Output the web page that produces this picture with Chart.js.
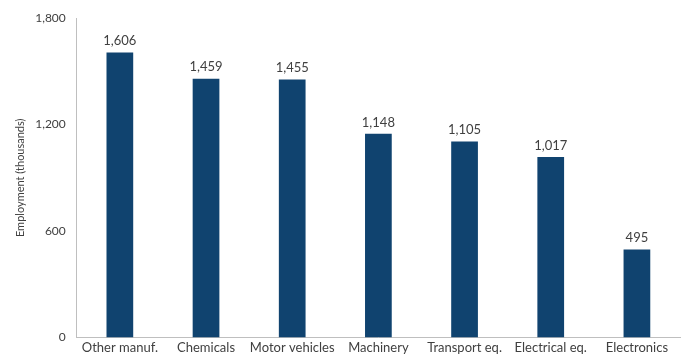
<!DOCTYPE html>
<html>
<head>
<meta charset="utf-8">
<script src="https://cdn.jsdelivr.net/npm/chart.js@4"></script>
<style>
    html, body { margin: 0; padding: 0; background: #fff; }
    #wrap { width: 689px; height: 359px; }
</style>
</head>
<body>
<div id="wrap"><canvas id="empChart"></canvas></div>
<script>
// Dados
const categories = ['Other manuf.', 'Chemicals', 'Motor vehicles', 'Machinery', 'Transport eq.', 'Electrical eq.', 'Electronics'];
const employment = [1606, 1459, 1455, 1148, 1105, 1017, 495];
const yTicks = [0, 600, 1200, 1800];

const fontFamily = "Lato, 'Open Sans', sans-serif";

// Escreve o valor em cima de cada barra
const valueLabels = {
    id: 'valueLabels',
    afterDatasetsDraw(chart) {
        const ctx = chart.ctx;
        const meta = chart.getDatasetMeta(0);
        ctx.save();
        ctx.font = '13px ' + fontFamily;
        ctx.fillStyle = '#404040';
        ctx.textAlign = 'center';
        ctx.textBaseline = 'bottom';
        meta.data.forEach((bar, i) => {
            ctx.fillText(employment[i].toLocaleString('en-US'), bar.x, bar.y - 5);
        });
        ctx.restore();
    }
};

new Chart(document.getElementById('empChart'), {
    type: 'bar',
    data: {
        labels: categories,
        datasets: [{
            data: employment,
            backgroundColor: '#10436F',
            categoryPercentage: 0.31,
            barPercentage: 1
        }]
    },
    options: {
        responsive: true,
        maintainAspectRatio: false,
        animation: false,
        layout: { padding: { top: 6, right: 9, left: 10, bottom: 0 } },
        plugins: {
            legend: { display: false },
            tooltip: { enabled: false }
        },
        scales: {
            x: {
                grid: { display: false, drawTicks: false },
                border: { display: true, color: '#bfbfbf' },
                ticks: { color: '#404040', font: { family: fontFamily, size: 13 }, padding: 3, maxRotation: 0, autoSkip: false }
            },
            y: {
                min: 0,
                max: 1800,
                afterBuildTicks(axis) { axis.ticks = yTicks.map(v => ({ value: v })); },
                grid: { display: false, drawTicks: false },
                border: { display: true, color: '#bfbfbf' },
                ticks: {
                    color: '#404040',
                    font: { family: fontFamily, size: 12 },
                    padding: 11,
                    callback: v => v.toLocaleString('en-US')
                },
                title: {
                    display: true,
                    text: 'Employment (thousands)',
                    color: '#404040',
                    font: { family: fontFamily, size: 11 },
                    padding: { top: 4, bottom: -3 }
                }
            }
        }
    },
    plugins: [valueLabels]
});
</script>
</body>
</html>
